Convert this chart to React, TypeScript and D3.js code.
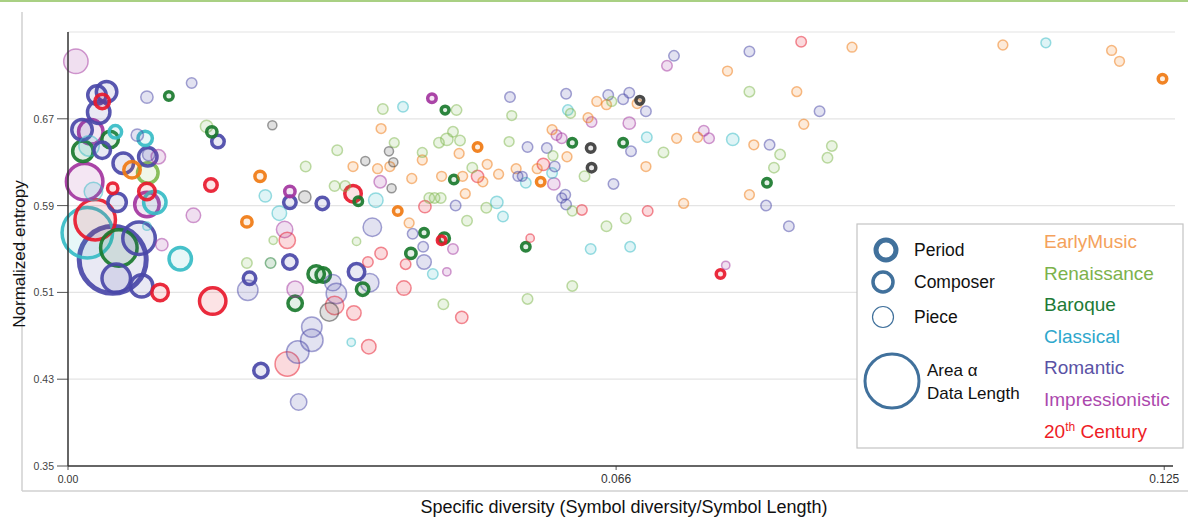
import React from "react";
import * as d3 from "d3";

type Pt = [number, number, number, string];

// [specific diversity, normalized entropy, data length, level] ; level P=period, C=composer, W=piece
const earlyMusic: Pt[] = [
  [0.0073, 0.623, 25, "C"], [0.0219, 0.617, 12, "C"], [0.0204, 0.575, 12, "C"], [0.0376, 0.585, 9, "C"],
  [0.0467, 0.644, 9, "C"], [0.0539, 0.612, 9, "C"], [0.1248, 0.707, 9, "C"],
  [0.0357, 0.661, 8, "W"], [0.0325, 0.626, 8, "W"], [0.0353, 0.624, 8, "W"], [0.0367, 0.626, 8, "W"],
  [0.0392, 0.615, 8, "W"], [0.0404, 0.632, 8, "W"], [0.0426, 0.617, 8, "W"], [0.0389, 0.574, 8, "W"],
  [0.0446, 0.638, 8, "W"], [0.045, 0.617, 8, "W"], [0.0473, 0.612, 8, "W"], [0.0478, 0.628, 8, "W"],
  [0.0491, 0.619, 8, "W"], [0.0511, 0.624, 8, "W"], [0.0535, 0.624, 8, "W"], [0.0453, 0.601, 8, "W"],
  [0.0552, 0.66, 8, "W"], [0.0569, 0.635, 8, "W"], [0.0593, 0.671, 8, "W"], [0.0603, 0.686, 8, "W"],
  [0.0614, 0.683, 8, "W"], [0.0649, 0.684, 8, "W"], [0.0659, 0.626, 8, "W"], [0.0694, 0.652, 8, "W"],
  [0.0718, 0.653, 8, "W"], [0.0702, 0.592, 8, "W"], [0.0782, 0.646, 8, "W"], [0.0777, 0.6, 8, "W"],
  [0.0752, 0.714, 8, "W"], [0.0831, 0.695, 8, "W"], [0.0839, 0.665, 8, "W"], [0.0894, 0.736, 8, "W"],
  [0.1066, 0.738, 8, "W"], [0.119, 0.733, 8, "W"], [0.1199, 0.723, 8, "W"],
];

const renaissance: Pt[] = [
  [0.0091, 0.62, 36, "C"],
  [0.0158, 0.663, 12, "W"], [0.0271, 0.626, 9, "W"], [0.0307, 0.641, 9, "W"], [0.0234, 0.558, 6, "W"],
  [0.0329, 0.557, 6, "W"], [0.0204, 0.537, 9, "W"], [0.0359, 0.679, 9, "W"], [0.0372, 0.648, 8, "W"],
  [0.0304, 0.608, 9, "W"], [0.0316, 0.608, 9, "W"], [0.0404, 0.639, 8, "W"], [0.0423, 0.648, 9, "W"],
  [0.0432, 0.651, 12, "W"], [0.0439, 0.658, 9, "W"], [0.0447, 0.65, 9, "W"], [0.0443, 0.678, 9, "W"],
  [0.0461, 0.625, 9, "W"], [0.0503, 0.649, 8, "W"], [0.0506, 0.673, 8, "W"], [0.0573, 0.675, 8, "W"],
  [0.0553, 0.636, 8, "W"], [0.0589, 0.617, 9, "W"], [0.0575, 0.585, 8, "W"], [0.0412, 0.597, 9, "W"],
  [0.0418, 0.597, 9, "W"], [0.0425, 0.597, 9, "W"], [0.0477, 0.588, 9, "W"], [0.0455, 0.576, 9, "W"],
  [0.0428, 0.499, 9, "W"], [0.0524, 0.504, 9, "W"], [0.0575, 0.516, 9, "W"], [0.0614, 0.571, 9, "W"],
  [0.0636, 0.578, 9, "W"], [0.0679, 0.639, 9, "W"], [0.0777, 0.695, 9, "W"], [0.0812, 0.637, 9, "W"],
  [0.0805, 0.625, 9, "W"], [0.0871, 0.645, 9, "W"], [0.0866, 0.634, 9, "W"], [0.062, 0.686, 8, "W"],
];

const baroque: Pt[] = [
  [0.0115, 0.691, 9, "C"], [0.0017, 0.64, 36, "C"], [0.0048, 0.651, 25, "C"], [0.0058, 0.551, 100, "C"],
  [0.0164, 0.658, 12, "C"], [0.0283, 0.527, 25, "C"], [0.0291, 0.526, 20, "C"], [0.0336, 0.513, 16, "C"],
  [0.0259, 0.5, 20, "C"], [0.0331, 0.594, 9, "C"], [0.0406, 0.565, 9, "C"], [0.0429, 0.56, 12, "C"],
  [0.0391, 0.546, 12, "C"], [0.043, 0.678, 8, "C"], [0.044, 0.614, 9, "C"], [0.0522, 0.552, 9, "C"],
  [0.0575, 0.648, 9, "C"], [0.0633, 0.648, 9, "C"], [0.0797, 0.611, 9, "C"],
  [0.0231, 0.537, 9, "W"],
];

const classical: Pt[] = [
  [0.0022, 0.565, 182, "C"], [0.0054, 0.658, 16, "C"], [0.0088, 0.652, 20, "C"], [0.0099, 0.593, 42, "C"],
  [0.0128, 0.541, 42, "C"],
  [0.0024, 0.645, 30, "W"], [0.0029, 0.603, 25, "W"], [0.009, 0.571, 6, "W"], [0.0225, 0.599, 12, "W"],
  [0.0241, 0.583, 16, "W"], [0.0351, 0.595, 16, "W"], [0.0382, 0.681, 9, "W"], [0.0416, 0.527, 9, "W"],
  [0.0323, 0.464, 6, "W"], [0.0522, 0.611, 9, "W"], [0.0489, 0.593, 12, "W"], [0.0496, 0.58, 9, "W"],
  [0.0552, 0.62, 9, "W"], [0.057, 0.678, 9, "W"], [0.0596, 0.55, 9, "W"], [0.0641, 0.552, 9, "W"],
  [0.066, 0.653, 9, "W"], [0.0758, 0.651, 12, "W"], [0.1115, 0.74, 8, "W"],
];

const romantic: Pt[] = [
  [0.0044, 0.695, 36, "C"], [0.0033, 0.692, 30, "C"], [0.0035, 0.676, 42, "C"], [0.0016, 0.66, 36, "C"],
  [0.0039, 0.641, 25, "C"], [0.0063, 0.629, 36, "C"], [0.0091, 0.635, 30, "C"], [0.0056, 0.593, 30, "C"],
  [0.0051, 0.54, 324, "P"], [0.0081, 0.56, 81, "C"], [0.0055, 0.523, 64, "C"], [0.0084, 0.516, 42, "C"],
  [0.0171, 0.649, 16, "C"], [0.0207, 0.523, 16, "C"], [0.022, 0.438, 20, "C"], [0.0253, 0.593, 16, "C"],
  [0.029, 0.592, 16, "C"], [0.0253, 0.538, 20, "C"], [0.0329, 0.529, 25, "C"],
  [0.009, 0.69, 12, "W"], [0.0141, 0.703, 9, "W"], [0.0079, 0.655, 12, "W"], [0.0092, 0.637, 12, "W"],
  [0.0205, 0.512, 30, "W"], [0.0347, 0.57, 25, "W"], [0.0344, 0.519, 25, "W"], [0.0302, 0.519, 20, "W"],
  [0.0306, 0.509, 30, "W"], [0.0278, 0.478, 30, "W"], [0.0278, 0.466, 36, "W"], [0.0262, 0.455, 36, "W"],
  [0.0263, 0.409, 20, "W"], [0.0393, 0.564, 9, "W"], [0.0405, 0.552, 9, "W"], [0.0406, 0.538, 16, "W"],
  [0.0442, 0.59, 9, "W"], [0.0504, 0.69, 9, "W"], [0.0524, 0.644, 9, "W"], [0.0546, 0.643, 9, "W"],
  [0.0513, 0.617, 8, "W"], [0.0518, 0.617, 8, "W"], [0.0555, 0.626, 9, "W"], [0.0568, 0.693, 9, "W"],
  [0.0567, 0.6, 9, "W"], [0.0563, 0.597, 8, "W"], [0.0568, 0.591, 9, "W"], [0.0616, 0.692, 9, "W"],
  [0.0633, 0.688, 9, "W"], [0.064, 0.694, 9, "W"], [0.0659, 0.677, 9, "W"], [0.0642, 0.64, 9, "W"],
  [0.0622, 0.61, 9, "W"], [0.0691, 0.728, 9, "W"], [0.0777, 0.732, 9, "W"], [0.08, 0.646, 9, "W"],
  [0.0796, 0.59, 9, "W"], [0.0822, 0.571, 9, "W"], [0.0857, 0.677, 9, "W"],
];

const impressionistic: Pt[] = [
  [0.0026, 0.658, 49, "C"], [0.0019, 0.612, 100, "C"], [0.009, 0.591, 49, "C"], [0.0415, 0.689, 9, "C"],
  [0.0253, 0.603, 12, "C"],
  [0.0009, 0.723, 42, "W"], [0.0103, 0.635, 16, "W"], [0.0143, 0.581, 16, "W"], [0.0107, 0.554, 12, "W"],
  [0.0247, 0.568, 20, "W"], [0.0259, 0.513, 20, "W"], [0.0356, 0.612, 12, "W"], [0.0432, 0.529, 6, "W"],
  [0.0439, 0.55, 9, "W"], [0.0554, 0.61, 12, "W"], [0.0557, 0.655, 9, "W"], [0.0563, 0.652, 9, "W"],
  [0.0597, 0.667, 9, "W"], [0.064, 0.666, 12, "W"], [0.0683, 0.719, 9, "W"], [0.0725, 0.659, 9, "W"],
  [0.0731, 0.652, 9, "W"], [0.075, 0.535, 6, "W"],
];

const century20: Pt[] = [
  [0.0039, 0.686, 20, "C"], [0.0051, 0.606, 12, "C"], [0.009, 0.603, 25, "C"], [0.0031, 0.577, 121, "C"],
  [0.0105, 0.51, 25, "C"], [0.0165, 0.502, 56, "C"], [0.0163, 0.609, 16, "C"], [0.0325, 0.601, 25, "C"],
  [0.0426, 0.558, 9, "C"], [0.0744, 0.527, 9, "C"],
  [0.025, 0.558, 20, "W"], [0.025, 0.444, 42, "W"], [0.0304, 0.498, 25, "W"], [0.0326, 0.491, 16, "W"],
  [0.0343, 0.46, 16, "W"], [0.0342, 0.538, 9, "W"], [0.0357, 0.546, 12, "W"], [0.0383, 0.514, 16, "W"],
  [0.0385, 0.536, 9, "W"], [0.0407, 0.589, 12, "W"], [0.0449, 0.487, 12, "W"], [0.0467, 0.617, 12, "W"],
  [0.0527, 0.56, 6, "W"], [0.0542, 0.628, 12, "W"], [0.0586, 0.586, 9, "W"], [0.0661, 0.585, 9, "W"],
  [0.0836, 0.741, 9, "W"],
];

const unassigned: Pt[] = [
  [0.0233, 0.664, 7, "W"], [0.027, 0.598, 12, "W"], [0.0298, 0.492, 25, "W"], [0.0366, 0.64, 7, "W"],
  [0.0371, 0.63, 7, "W"], [0.0339, 0.631, 7, "W"], [0.0369, 0.606, 7, "W"],
  [0.0596, 0.643, 9, "C"], [0.0597, 0.625, 9, "C"], [0.0652, 0.687, 8, "C"],
];

const periodNames = ["EarlyMusic", "Renaissance", "Baroque", "Classical", "Romantic", "Impressionistic", "20th Century"];
const legendColors = ["#f4a25c", "#7cb24b", "#217a36", "#2ea7cc", "#5a52a5", "#ac48ad", "#ee1c25"];

const yTicks = [0.35, 0.43, 0.51, 0.59, 0.67];
const yGrid = [0.43, 0.51, 0.59, 0.67, 0.75];
const xTicks = [0, 0.0625, 0.125];
const xTickLabels = ["0.00", "0.066", "0.125"];

const series = [
  { data: earlyMusic, color: "#f07a12" },
  { data: renaissance, color: "#7fb84e" },
  { data: baroque, color: "#1a7a2e" },
  { data: classical, color: "#36bcc6" },
  { data: romantic, color: "#4a48a8" },
  { data: impressionistic, color: "#a3359f" },
  { data: century20, color: "#e8192c" },
  { data: unassigned, color: "#3c3c3c" },
];

const FONT = "'Liberation Sans', Arial, sans-serif";
const LEG = "#41719c";

export default function App() {
  const x = d3.scaleLinear().domain([0, 0.126]).range([68, 1173]);
  const y = d3.scaleLinear().domain([0.35, 0.75]).range([466, 32]);
  const r = d3.scaleSqrt().domain([0, 400]).range([0, 40]);

  const sw: Record<string, number> = { P: 5, C: 3.5, W: 1.5 };
  const marks = series
    .flatMap((s) => s.data.map((d) => ({ d, color: s.color })))
    .sort((a, b) => b.d[2] - a.d[2]);

  return (
    <svg width={1188} height={517} style={{ position: "absolute", left: 0, top: 0, background: "#fff" }}>
      <line x1={0} x2={1188} y1={1} y2={1} stroke="#8cc05a" strokeWidth={1.5} />
      <line x1={22} x2={22} y1={12} y2={491} stroke="#d0d0d0" strokeWidth={1.5} />
      <line x1={22} x2={1188} y1={491} y2={491} stroke="#d0d0d0" strokeWidth={1.5} />
      {yGrid.map((t) => (
        <line key={"g" + t} x1={68} x2={1175} y1={y(t)} y2={y(t)} stroke="#e4e4e4" strokeWidth={1.2} />
      ))}
      {yTicks.map((t) => (
        <g key={"yt" + t}>
          <line x1={57} x2={68} y1={y(t)} y2={y(t)} stroke="#555" strokeWidth={1} />
          <text x={54} y={y(t) + 4} textAnchor="end" fontSize={10.5} fill="#444" fontFamily={FONT}>
            {t.toFixed(2)}
          </text>
        </g>
      ))}
      {xTicks.map((t, i) => (
        <g key={"xt" + t}>
          <line x1={x(t)} x2={x(t)} y1={466} y2={470} stroke="#555" strokeWidth={1} />
          <text x={x(t)} y={483} textAnchor="middle" fontSize={i === 0 ? 10.5 : 12} fill="#333" fontFamily={FONT}>
            {xTickLabels[i]}
          </text>
        </g>
      ))}
      {marks.map((m, i) => {
        const w = sw[m.d[3]];
        const rad = Math.max(2, r(m.d[2]) - w / 2);
        const piece = m.d[3] === "W";
        return (
          <circle
            key={i}
            cx={x(m.d[0])}
            cy={y(m.d[1])}
            r={rad}
            fill={m.color}
            fillOpacity={piece ? 0.16 : 0.12}
            stroke={m.color}
            strokeOpacity={piece ? 0.5 : 0.92}
            strokeWidth={w}
          />
        );
      })}
      <line x1={68} x2={68} y1={32} y2={466} stroke="#333" strokeWidth={1.5} />
      <line x1={68} x2={1173} y1={466} y2={466} stroke="#333" strokeWidth={1.5} />
      <text
        transform="translate(25,254) rotate(-90)"
        textAnchor="middle"
        fontSize={17}
        fill="#111"
        fontFamily={FONT}
      >
        Normalized entropy
      </text>
      <text x={624} y={513} textAnchor="middle" fontSize={18} fill="#111" fontFamily={FONT}>
        Specific diversity (Symbol diversity/Symbol Length)
      </text>

      <g>
        <rect x={857} y={224} width={326} height={224} fill="#fff" stroke="#c4c4c4" strokeWidth={1.2} />
        <circle cx={886} cy={250} r={10} fill="none" stroke={LEG} strokeWidth={5} />
        <circle cx={883} cy={282} r={10} fill="none" stroke={LEG} strokeWidth={3.5} />
        <circle cx={883} cy={317} r={10.5} fill="none" stroke={LEG} strokeWidth={1.2} />
        <circle cx={892} cy={381} r={27} fill="none" stroke={LEG} strokeWidth={3} />
        {[["Period", 256], ["Composer", 288], ["Piece", 323]].map(([t, yy]) => (
          <text key={t as string} x={914} y={yy as number} fontSize={17.5} fill="#111" fontFamily={FONT}>
            {t}
          </text>
        ))}
        <text x={927} y={376} fontSize={17} fill="#111" fontFamily={FONT}>Area α</text>
        <text x={927} y={399} fontSize={17} fill="#111" fontFamily={FONT}>Data Length</text>
        {periodNames.map((p, i) => (
          <text key={p} x={1044} y={248 + i * 31.6} fontSize={19} fill={legendColors[i]} fontFamily={FONT}>
            {p.startsWith("20th") ? (
              <>
                20<tspan fontSize={12} dy={-7}>th</tspan>
                <tspan dy={7}> Century</tspan>
              </>
            ) : (
              p
            )}
          </text>
        ))}
      </g>
    </svg>
  );
}
